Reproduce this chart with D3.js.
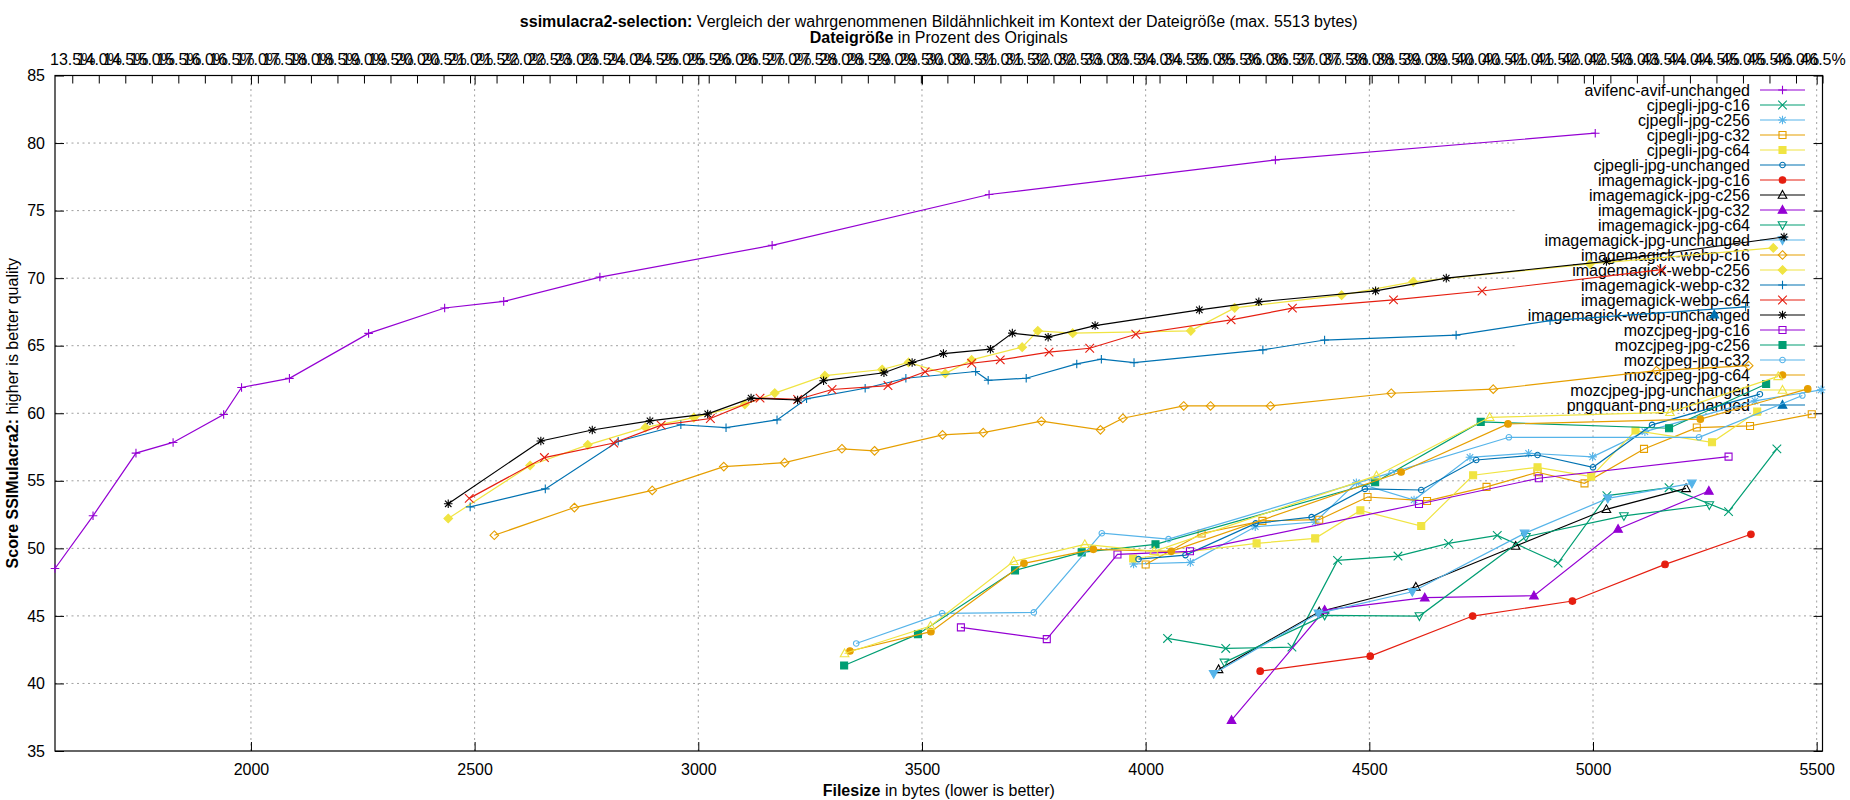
<!DOCTYPE html>
<html><head><meta charset="utf-8">
<script src="https://cdn.jsdelivr.net/npm/d3@7"></script>
<style>
body{margin:0;background:#fff}
svg{display:block}
text{font-family:"Liberation Sans",Arial,Helvetica,sans-serif;font-size:16px;fill:#000}
</style>
</head><body>
<svg id="chart" width="1850" height="800"></svg>
<script>
// ---------- data ----------
const seriesNames = [
  "avifenc-avif-unchanged","cjpegli-jpg-c16","cjpegli-jpg-c256","cjpegli-jpg-c32","cjpegli-jpg-c64","cjpegli-jpg-unchanged",
  "imagemagick-jpg-c16","imagemagick-jpg-c256","imagemagick-jpg-c32","imagemagick-jpg-c64","imagemagick-jpg-unchanged",
  "imagemagick-webp-c16","imagemagick-webp-c256","imagemagick-webp-c32","imagemagick-webp-c64","imagemagick-webp-unchanged",
  "mozcjpeg-jpg-c16","mozcjpeg-jpg-c256","mozcjpeg-jpg-c32","mozcjpeg-jpg-c64","mozcjpeg-jpg-unchanged","pngquant-png-unchanged"
];

const avifencAvifUnchanged = [[1562,48.51],[1647,52.41],[1743,57.05],[1826,57.84],[1939,59.91],[1979,61.91],[2086,62.58],[2263,65.91],[2433,67.79],[2565,68.28],[2780,70.08],[3165,72.43],[3650,76.19],[4290,78.75],[5005,80.73]];
const cjpegliC16 = [[4049,43.33],[4179,42.59],[4327,42.69],[4429,49.11],[4564,49.43],[4677,50.37],[4786,50.96],[4922,48.91],[5031,53.90],[5170,54.49],[5303,52.72],[5411,57.36]];
const cjpegliC256 = [[3973,48.84],[4100,48.96],[4245,51.60],[4379,51.95],[4471,54.86],[4600,53.58],[4725,56.74],[4856,57.04],[4999,56.77],[5116,58.64],[5362,60.92],[5510,61.73]];
const cjpegliC32 = [[4000,48.81],[4125,51.10],[4261,52.03],[4388,52.12],[4496,53.80],[4629,53.51],[4762,54.55],[4876,55.63],[4981,54.81],[5114,57.36],[5232,58.94],[5351,59.06],[5489,59.93]];
const cjpegliC64 = [[3972,49.25],[4248,50.37],[4379,50.74],[4480,52.81],[4616,51.65],[4732,55.41],[4876,56.00],[4996,55.31],[5095,58.72],[5266,57.85],[5367,60.12]];
const cjpegliUnchanged = [[3984,49.20],[4089,49.50],[4246,51.85],[4371,52.31],[4490,54.40],[4616,54.32],[4739,56.54],[4876,56.91],[5000,56.00],[5132,59.14],[5373,61.41]];
const imJpgC16 = [[4256,40.91],[4502,42.02],[4731,44.99],[4954,46.10],[5161,48.81],[5353,51.04]];
const imJpgC256 = [[4163,41.04],[4388,45.31],[4604,47.14],[4827,50.17],[5030,52.89],[5208,54.44]];
const imJpgC32 = [[4192,37.28],[4400,45.43],[4624,46.35],[4868,46.49],[5056,51.43],[5259,54.25]];
const imJpgC64 = [[4176,41.56],[4400,45.04],[4612,44.99],[4850,50.86],[5069,52.40],[5260,53.21]];
const imJpgUnchanged = [[4152,40.72],[4386,45.19],[4596,46.79],[4847,51.11],[5033,53.70],[5221,54.81]];
const imWebpC16 = [[2544,50.97],[2723,53.02],[2897,54.29],[3057,56.05],[3193,56.34],[3321,57.37],[3394,57.22],[3546,58.40],[3637,58.57],[3767,59.41],[3899,58.77],[3949,59.63],[4085,60.54],[4145,60.54],[4279,60.54],[4549,61.48],[4777,61.78],[5142,63.15],[5348,63.52]];
const imWebpC256 = [[2441,52.21],[2624,56.13],[2753,57.66],[2882,58.95],[2990,59.68],[3104,60.66],[3171,61.49],[3283,62.78],[3411,63.24],[3470,63.76],[3552,62.94],[3611,63.95],[3724,64.89],[3759,66.10],[3837,65.93],[4101,66.10],[4199,67.80],[4438,68.74],[4598,69.73],[4993,71.05],[5403,72.24]];
const imWebpC32 = [[2490,53.07],[2658,54.40],[2821,57.93],[2961,59.15],[3062,58.93],[3176,59.51],[3242,61.07],[3373,61.85],[3464,62.59],[3620,63.09],[3648,62.44],[3733,62.59],[3846,63.65],[3901,64.00],[3974,63.75],[4262,64.69],[4400,65.42],[4694,65.78],[4904,66.85],[5341,67.87]];
const imWebpC64 = [[2488,53.70],[2656,56.72],[2811,57.80],[2917,59.12],[3027,59.61],[3138,61.12],[3222,61.02],[3299,61.76],[3424,62.05],[3507,63.07],[3611,63.70],[3675,63.95],[3784,64.52],[3875,64.81],[3978,65.85],[4191,66.91],[4328,67.78],[4554,68.39],[4752,69.05],[5153,70.63]];
const imWebpUnchanged = [[2441,53.30],[2648,57.95],[2763,58.76],[2892,59.44],[3021,59.95],[3118,61.12],[3222,60.98],[3280,62.41],[3415,63.00],[3478,63.76],[3548,64.41],[3653,64.74],[3702,65.93],[3782,65.63],[3887,66.49],[4120,67.65],[4253,68.25],[4514,69.06],[4672,70.00],[5030,71.24],[5427,73.05]];
const mozC16 = [[3587,44.15],[3779,43.28],[3937,49.55],[4099,49.78],[4611,53.28],[4879,55.19],[5303,56.79]];
const mozC256 = [[3326,41.33],[3491,43.65],[3708,48.37],[3857,49.70],[4022,50.30],[4513,54.89],[4749,59.36],[5170,58.89],[5387,62.17]];
const mozC32 = [[3353,42.96],[3545,45.19],[3750,45.26],[3902,51.12],[4051,50.68],[4550,55.60],[4812,58.22],[5237,58.22],[5468,61.31]];
const mozC64 = [[3339,42.40],[3520,43.83],[3728,48.89],[3883,49.93],[4057,49.78],[4571,55.65],[4810,59.21],[5240,59.56],[5480,61.80]];
const mozUnchanged = [[3327,42.22],[3519,44.25],[3705,49.04],[3864,50.30],[4019,49.78],[4516,55.38],[4769,59.70],[5172,60.07],[5414,62.73]];
const pngquantUnchanged = [[5271,67.30]];

const seriesValues = [avifencAvifUnchanged,cjpegliC16,cjpegliC256,cjpegliC32,cjpegliC64,cjpegliUnchanged,
  imJpgC16,imJpgC256,imJpgC32,imJpgC64,imJpgUnchanged,
  imWebpC16,imWebpC256,imWebpC32,imWebpC64,imWebpUnchanged,
  mozC16,mozC256,mozC32,mozC64,mozUnchanged,pngquantUnchanged];

const xDomain = [1562, 5513];
const yDomain = [35, 85];
const xTickValues = [2000,2500,3000,3500,4000,4500,5000,5500];
const yTickValues = [35,40,45,50,55,60,65,70,75,80,85];
const originalSize = 11856;               // bytes of the original (46.5% = 5513 bytes)
const x2TickValues = d3.range(27, 94).map(d => d / 2);   // 13.5 % .. 46.5 %

// ---------- styles ----------
const palette = ["#9400d3","#009e73","#56b4e9","#e69f00","#f0e442","#0072b2","#e51e10","#000000"];
const markerKinds = ["plus","cross","star","square","squareF","circle","circleF","tri","triF","triD","triDF","diamond","diamondF"];

// ---------- layout ----------
const L = 55, R = 1822.5, T = 75.5, B = 751;
const svg = d3.select("#chart");
const x = d3.scaleLinear().domain(xDomain).range([L, R]);
const y = d3.scaleLinear().domain(yDomain).range([B, T]);
const x2 = d3.scaleLinear().domain(xDomain.map(v => v / originalSize * 100)).range([L, R]);

// grid
const grid = svg.append("g").attr("stroke", "#a0a0a0").attr("stroke-width", 1).attr("stroke-dasharray", "2,3.5");
xTickValues.forEach(v => grid.append("line").attr("x1", x(v)).attr("x2", x(v)).attr("y1", B).attr("y2", T));
yTickValues.filter(v => v > yDomain[0] && v < yDomain[1]).forEach(v =>
  grid.append("line").attr("x1", L).attr("x2", R).attr("y1", y(v)).attr("y2", y(v)));

// key background (hides the grid behind the key)
const keyTop = 90, keyStep = 15, keyTextX = 1750, keyLineX1 = 1760, keyLineX2 = 1805;
svg.append("rect").attr("x", 1517).attr("y", T + 0.5).attr("width", 1812 - 1517)
  .attr("height", keyTop + keyStep * (seriesNames.length - 1) + 7 - T).attr("fill", "#fff");

// axes via d3
const tickLen = 9;
svg.append("g").attr("transform", `translate(0,${B})`)
  .call(d3.axisBottom(x).tickValues(xTickValues).tickSize(-tickLen).tickPadding(13).tickFormat(d3.format("d")))
  .call(g => g.select(".domain").remove());
svg.append("g").attr("transform", `translate(0,${T})`)
  .call(d3.axisTop(x).tickValues(xTickValues).tickSize(-tickLen).tickFormat(""))
  .call(g => g.select(".domain").remove());
svg.append("g").attr("transform", `translate(0,${T})`)
  .call(d3.axisTop(x2).tickValues(x2TickValues).tickSize(-8).tickPadding(10.5).tickFormat(d => d.toFixed(1) + "%"))
  .call(g => g.select(".domain").remove());
svg.append("g").attr("transform", `translate(${L},0)`)
  .call(d3.axisLeft(y).tickValues(yTickValues).tickSize(-tickLen).tickPadding(10).tickFormat(d3.format("d")))
  .call(g => g.select(".domain").remove());
svg.append("g").attr("transform", `translate(${R},0)`)
  .call(d3.axisRight(y).tickValues(yTickValues).tickSize(-tickLen).tickFormat(""))
  .call(g => g.select(".domain").remove());
svg.selectAll(".tick line").attr("stroke", "#000").attr("stroke-width", 1);
svg.selectAll(".tick text").attr("font-size", 16).attr("font-family", '"Liberation Sans",Arial,sans-serif').attr("fill", "#000");

// frame
svg.append("rect").attr("x", L).attr("y", T).attr("width", R - L).attr("height", B - T)
  .attr("fill", "none").attr("stroke", "#000").attr("stroke-width", 1.2);

// titles
const cx = (L + R) / 2;
const t1 = svg.append("text").attr("x", cx).attr("y", 27).attr("text-anchor", "middle");
t1.append("tspan").attr("font-weight", "bold").text("ssimulacra2-selection:");
t1.append("tspan").text(" Vergleich der wahrgenommenen Bildähnlichkeit im Kontext der Dateigröße (max. 5513 bytes)");
const t2 = svg.append("text").attr("x", cx).attr("y", 43).attr("text-anchor", "middle");
t2.append("tspan").attr("font-weight", "bold").text("Dateigröße");
t2.append("tspan").text(" in Prozent des Originals");
const xl = svg.append("text").attr("x", cx).attr("y", 796).attr("text-anchor", "middle");
xl.append("tspan").attr("font-weight", "bold").text("Filesize");
xl.append("tspan").text(" in bytes (lower is better)");
const yl = svg.append("text").attr("transform", `translate(18,${(T + B) / 2}) rotate(-90)`).attr("text-anchor", "middle");
yl.append("tspan").attr("font-weight", "bold").text("Score SSIMulacra2:");
yl.append("tspan").text(" higher is better quality");

// markers
function markerPath(kind) {
  const s = 4.3;
  switch (kind) {
    case "plus": return `M${-s},0H${s}M0,${-s}V${s}`;
    case "cross": return `M${-s},${-s}L${s},${s}M${-s},${s}L${s},${-s}`;
    case "star": { const c = s * 0.75; return `M${-s},0H${s}M0,${-s}V${s}M${-c},${-c}L${c},${c}M${-c},${c}L${c},${-c}`; }
    case "square": case "squareF": { const q = 3.5; return `M${-q},${-q}H${q}V${q}H${-q}Z`; }
    case "circle": return d3.symbol(d3.symbolCircle, 24)();
    case "circleF": return d3.symbol(d3.symbolCircle, 34)();
    case "tri": case "triF": return `M0,${-s * 1.05}L${s},${s * 0.75}L${-s},${s * 0.75}Z`;
    case "triD": case "triDF": return `M0,${s * 1.05}L${s},${-s * 0.75}L${-s},${-s * 0.75}Z`;
    case "diamond": case "diamondF": return `M0,${-s}L${s},0L0,${s}L${-s},0Z`;
  }
}
function styleMarker(sel, kind, color) {
  const filled = kind.endsWith("F");
  sel.attr("d", markerPath(kind))
    .attr("fill", filled ? color : "none")
    .attr("stroke", color)
    .attr("stroke-width", 1.1);
}

// key
seriesNames.forEach((name, i) => {
  const color = palette[i % palette.length];
  const kind = markerKinds[i % markerKinds.length];
  const yy = keyTop + i * keyStep;
  svg.append("text").attr("x", keyTextX).attr("y", yy).attr("dy", "0.35em").attr("text-anchor", "end").text(name);
  svg.append("line").attr("x1", keyLineX1).attr("x2", keyLineX2).attr("y1", yy).attr("y2", yy)
    .attr("stroke", color).attr("stroke-width", 1.2);
  svg.append("path").attr("transform", `translate(${(keyLineX1 + keyLineX2) / 2},${yy})`).call(styleMarker, kind, color);
});

// data
const line = d3.line().x(d => x(d[0])).y(d => y(d[1]));
seriesValues.forEach((vals, i) => {
  const color = palette[i % palette.length];
  const kind = markerKinds[i % markerKinds.length];
  const g = svg.append("g");
  g.append("path").attr("d", line(vals)).attr("fill", "none").attr("stroke", color).attr("stroke-width", 1.2);
  g.selectAll("path.pt").data(vals).join("path").attr("class", "pt")
    .attr("transform", d => `translate(${x(d[0])},${y(d[1])})`)
    .call(styleMarker, kind, color);
});
</script>
</body></html>
